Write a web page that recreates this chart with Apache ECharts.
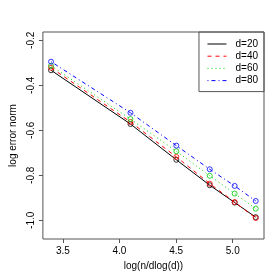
<!DOCTYPE html>
<html><head><meta charset="utf-8">
<script src="https://cdn.jsdelivr.net/npm/echarts@6/dist/echarts.min.js"></script>
<style>html,body{margin:0;padding:0;background:#fff}#c{width:280px;height:280px}</style>
</head><body><div id="c"></div>
<script>
var xValues = [3.396, 4.097, 4.502, 4.797, 5.017, 5.203];
var seriesNames = ['d=20', 'd=40', 'd=60', 'd=80'];
var d20 = [-0.333, -0.572, -0.731, -0.844, -0.921, -0.986];
var d40 = [-0.322, -0.563, -0.718, -0.837, -0.919, -0.990];
var d60 = [-0.313, -0.550, -0.693, -0.802, -0.881, -0.948];
var d80 = [-0.295, -0.522, -0.668, -0.773, -0.847, -0.914];
var xTicks = [3.5, 4.0, 4.5, 5.0];
var yTicks = [-1.0, -0.8, -0.6, -0.4, -0.2];

var colors = ['#000000', '#FF0000', '#00CD00', '#0000FF'];
var dashes = ['solid', [4, 4], [1, 3], [1, 3, 4, 3]];
var allData = [d20, d40, d60, d80];
var font = 'Liberation Sans, Arial, sans-serif';

var series = [];
allData.forEach(function (vals, i) {
  var pts = xValues.map(function (x, j) { return [x, vals[j]]; });
  series.push({
    name: seriesNames[i], type: 'line', data: pts, symbol: 'none',
    lineStyle: { color: colors[i], width: 1, type: dashes[i] },
    itemStyle: { color: colors[i] }, z: 2 + i * 2, animation: false
  });
  series.push({
    name: seriesNames[i] + ' pts', type: 'scatter', data: pts, symbol: 'circle', symbolSize: 5,
    itemStyle: { color: 'rgba(0,0,0,0)', borderColor: colors[i], borderWidth: 1 },
    z: 3 + i * 2, animation: false
  });
});

var chart = echarts.init(document.getElementById('c'), null, { renderer: 'canvas' });
chart.setOption({
  animation: false,
  grid: { left: 33, right: 16, top: 32, bottom: 41, show: true, borderColor: '#555', borderWidth: 1, backgroundColor: 'transparent' },
  legend: {
    data: seriesNames, orient: 'vertical', right: 16, top: 32,
    borderColor: '#555', borderWidth: 1, borderRadius: 0,
    padding: [6, 6, 5, 8], itemWidth: 19, itemHeight: 12, itemGap: 0.2,
    itemStyle: { opacity: 0 },
    lineStyle: { width: 1 },
    textStyle: { fontFamily: font, fontSize: 10, color: '#000', lineHeight: 12, padding: [0, 0, 0, 4] },
    selectedMode: false
  },
  xAxis: {
    type: 'value', min: 3.324, max: 5.276,
    name: 'log(n/dlog(d))', nameLocation: 'middle', nameGap: 22,
    nameTextStyle: { fontFamily: font, fontSize: 10, color: '#000' },
    axisLine: { show: false },
    axisTick: { show: true, length: 4, lineStyle: { color: '#555' }, customValues: xTicks },
    axisLabel: { fontFamily: font, fontSize: 10, color: '#000', margin: 7, customValues: xTicks,
      formatter: function (v) { return v.toFixed(1); } },
    splitLine: { show: false }
  },
  yAxis: {
    type: 'value', min: -1.083, max: -0.163,
    name: 'log error norm', nameLocation: 'middle', nameGap: 19,
    nameTextStyle: { fontFamily: font, fontSize: 10, color: '#000' },
    axisLine: { show: false },
    axisTick: { show: true, length: 4, lineStyle: { color: '#555' }, customValues: yTicks },
    axisLabel: { fontFamily: font, fontSize: 10, color: '#000', margin: 7, rotate: 90, customValues: yTicks,
      formatter: function (v) { return v.toFixed(1); } },
    splitLine: { show: false }
  },
  series: series
});
</script></body></html>
